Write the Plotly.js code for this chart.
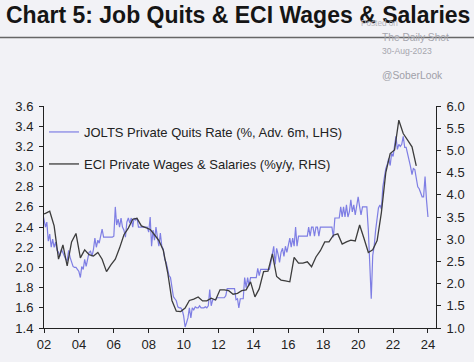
<!DOCTYPE html>
<html><head><meta charset="utf-8">
<script src="https://cdn.plot.ly/plotly-3.0.1.min.js"></script>
<style>html,body{margin:0;padding:0;background:#f2f2f6;} #chart{width:474px;height:362px;}</style>
</head><body><div id="chart"></div>
<script>
// JOLTS private quits rate (%), advanced 6 months, monthly from Dec-2001
const quitsStart = [2001, 12];
const quitsRate = [2.55,
 2.46,2.40,2.45,2.26,2.33,2.20,2.28,2.20,2.25,2.17,
 2.15,2.11,2.18,2.14,2.10,2.08,2.07,2.17,2.10,2.05,
 2.01,2.00,2.00,1.98,1.96,1.90,2.01,1.98,2.08,2.01,
 2.07,2.15,2.16,2.11,2.18,2.29,2.20,2.27,2.24,2.33,
 2.38,2.30,2.30,2.30,2.30,2.30,2.30,2.30,2.31,2.60,
 2.42,2.48,2.40,2.49,2.40,2.37,2.30,2.45,2.49,2.44,
 2.49,2.40,2.49,2.47,2.49,2.40,2.40,2.40,2.40,2.40,
 2.40,2.40,2.35,2.50,2.21,2.37,2.27,2.40,2.30,2.21,
 2.34,2.21,2.18,2.08,2.05,1.97,1.92,1.90,1.80,1.71,
 1.69,1.67,1.61,1.60,1.60,1.58,1.52,1.41,1.45,1.50,
 1.60,1.50,1.60,1.58,1.61,1.60,1.60,1.62,1.60,1.60,
 1.60,1.61,1.60,1.62,1.78,1.62,1.68,1.68,1.68,1.70,
 1.70,1.70,1.70,1.70,1.70,1.72,1.79,1.79,1.79,1.79,
 1.79,1.79,1.68,1.69,1.60,1.69,1.69,1.69,1.90,1.80,
 1.90,1.82,1.90,1.90,1.90,1.90,1.90,1.99,1.92,1.98,
 1.98,1.98,1.98,1.98,1.98,1.98,2.05,2.15,2.21,2.03,
 2.19,2.13,2.05,2.15,2.19,2.11,2.21,2.15,2.22,2.29,
 2.20,2.29,2.21,2.40,2.21,2.31,2.31,2.31,2.31,2.31,
 2.31,2.31,2.40,2.31,2.40,2.40,2.31,2.40,2.40,2.31,
 2.40,2.40,2.40,2.40,2.40,2.40,2.40,2.40,2.40,2.30,
 2.49,2.49,2.49,2.49,2.60,2.50,2.60,2.50,2.62,2.50,
 2.55,2.67,2.55,2.62,2.52,2.60,2.70,2.60,2.52,2.60,
 2.60,2.60,2.60,2.37,2.07,1.69,2.12,2.21,2.37,2.50,
 2.59,2.62,2.58,2.80,2.90,2.98,3.02,3.08,3.01,3.13,
 3.10,3.23,3.30,3.17,3.22,3.20,3.22,3.30,3.19,3.19,
 3.13,3.05,3.00,2.92,2.98,2.97,2.86,2.80,2.78,2.73,
 2.70,2.70,2.90,2.67,2.50];

// ECI private wages & salaries (%y/y), quarterly from Nov-2001
const eciStart = [2001, 11];
const eciWages = [3.55,
 3.58,3.63,3.30,2.55,
 2.87,2.40,2.94,3.13,
 2.58,2.76,2.65,2.62,
 2.70,2.55,2.27,2.42,
 2.55,2.80,3.10,3.25,
 3.45,3.47,3.30,3.26,
 3.22,3.10,2.97,2.75,
 2.25,1.62,1.38,1.37,
 1.45,1.62,1.65,1.70,
 1.61,1.61,1.67,1.63,
 1.86,1.86,1.84,1.76,
 1.78,1.84,1.86,2.04,
 1.70,1.88,2.27,2.28,
 2.67,2.16,2.08,2.06,
 2.04,2.59,2.46,2.46,
 2.49,2.38,2.60,2.74,
 2.94,2.94,3.09,3.12,
 2.89,2.94,2.98,2.96,
 3.32,3.02,2.70,2.76,
 2.97,3.60,4.50,4.93,
 5.01,5.68,5.38,5.23,
 5.08,4.65];

const xTickYears = [2002,2004,2006,2008,2010,2012,2014,2016,2018,2020,2022,2024];
const xTickLabels = ['02','04','06','08','10','12','14','16','18','20','22','24'];
const leftTicks = [1.4,1.6,1.8,2.0,2.2,2.4,2.6,2.8,3.0,3.2,3.4,3.6];
const rightTicks = [1.0,1.5,2.0,2.5,3.0,3.5,4.0,4.5,5.0,5.5,6.0];

function dates(start, n, step) {
  const out = [];
  let y = start[0], m = start[1];
  for (let i = 0; i < n; i++) {
    out.push(y + '-' + String(m).padStart(2, '0') + '-01');
    m += step;
    while (m > 12) { m -= 12; y += 1; }
  }
  return out;
}

const FONT = 'Arial, "Liberation Sans", sans-serif';
const W = 474, H = 362, L = 44, R = 38, T = 106, B = 34;
const pw = W - L - R, ph = H - T - B;
const px = x => (x - L) / pw;
const py = y => (H - B - y) / ph;

const traces = [
  {x: dates(quitsStart, quitsRate.length, 1), y: quitsRate, type: 'scatter', mode: 'lines',
   name: 'JOLTS Private Quits Rate (%, Adv. 6m, LHS)', line: {color: '#7e7ee4', width: 1.2},
   legend: 'legend', yaxis: 'y'},
  {x: dates(eciStart, eciWages.length, 3), y: eciWages, type: 'scatter', mode: 'lines',
   name: 'ECI Private Wages & Salaries (%y/y, RHS)', line: {color: '#3c3c3c', width: 1.3},
   legend: 'legend2', yaxis: 'y2'}
];

const axisCommon = {showgrid: false, zeroline: false, showline: true, linecolor: '#222', linewidth: 1,
  ticks: 'outside', ticklen: 4, tickwidth: 1, tickcolor: '#222', ticklabelstandoff: 3,
  tickfont: {family: FONT, size: 13, color: '#222'}, fixedrange: true};

const layout = {
  width: W, height: H,
  paper_bgcolor: '#f2f2f6', plot_bgcolor: '#f2f2f6',
  margin: {l: L, r: R, t: T, b: B, autoexpand: false},
  title: {text: '<b>Chart 5: Job Quits & ECI Wages & Salaries</b>', font: {family: FONT, size: 23, color: '#151515'},
          x: 6 / W, xanchor: 'left', xref: 'container', y: 1 - 15 / H, yanchor: 'middle', yref: 'container'},
  xaxis: Object.assign({}, axisCommon, {type: 'date', range: ['2002-01-01', '2024-06-17'], ticklabelstandoff: 0,
          tickvals: xTickYears.map(y => y + '-01-01'), ticktext: xTickLabels}),
  yaxis: Object.assign({}, axisCommon, {range: [1.4, 3.6], tickvals: leftTicks, tickformat: '.1f'}),
  yaxis2: Object.assign({}, axisCommon, {range: [1.0, 6.0], tickvals: rightTicks, tickformat: '.1f',
          overlaying: 'y', side: 'right'}),
  showlegend: true,
  legend: {x: 0, xanchor: 'left', y: py(132), yanchor: 'middle', bgcolor: 'rgba(0,0,0,0)',
           font: {family: FONT, size: 13, color: '#222'}},
  legend2: {x: 0, xanchor: 'left', y: py(164), yanchor: 'middle', bgcolor: 'rgba(0,0,0,0)',
           font: {family: FONT, size: 13, color: '#222'}},
  shapes: [{type: 'line', xref: 'paper', yref: 'paper', x0: px(0), x1: px(W), y0: py(37.5), y1: py(37.5),
            line: {color: '#666', width: 1.5}}],
  annotations: [
    {text: 'Posted on', x: px(359), y: py(23.5), xref: 'paper', yref: 'paper', xanchor: 'left', yanchor: 'middle',
     showarrow: false, font: {family: FONT, size: 8.2, color: '#b4b4bc'}},
    {text: 'The Daily Shot', x: px(380), y: py(37), xref: 'paper', yref: 'paper', xanchor: 'left', yanchor: 'middle',
     showarrow: false, font: {family: FONT, size: 10.2, color: '#a6a6ae'}},
    {text: '30-Aug-2023', x: px(380), y: py(51), xref: 'paper', yref: 'paper', xanchor: 'left', yanchor: 'middle',
     showarrow: false, font: {family: FONT, size: 8.6, color: '#a6a6ae'}},
    {text: '@SoberLook', x: px(380), y: py(75), xref: 'paper', yref: 'paper', xanchor: 'left', yanchor: 'middle',
     showarrow: false, font: {family: FONT, size: 10.3, color: '#a0a0a8'}}
  ]
};

Plotly.newPlot('chart', traces, layout, {displayModeBar: false, staticPlot: true});
</script></body></html>
